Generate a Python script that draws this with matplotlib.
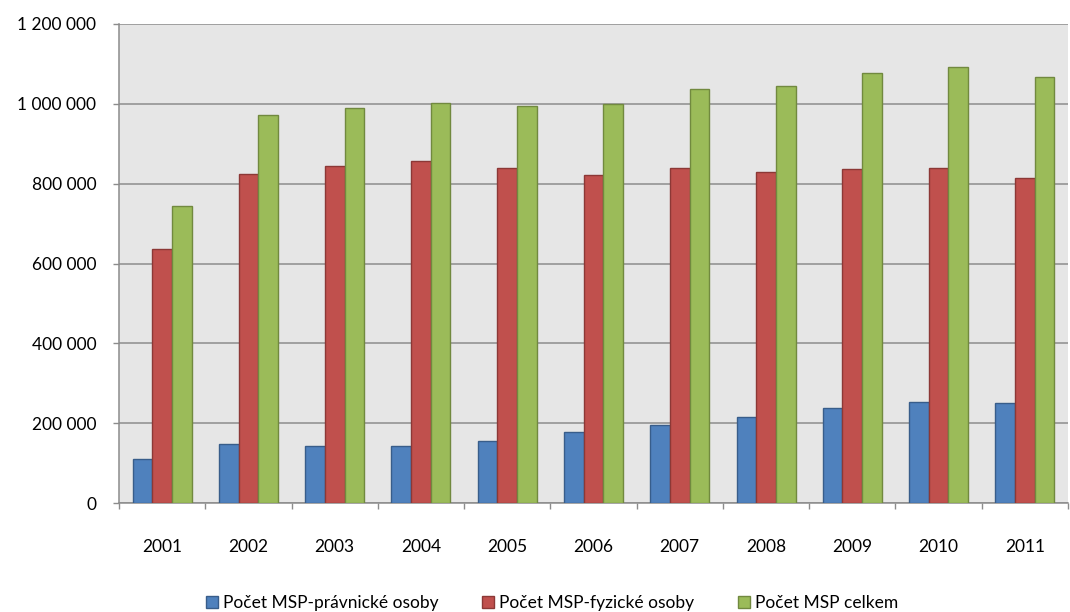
import numpy as np
import matplotlib
matplotlib.use("Agg")
import matplotlib.pyplot as plt
from matplotlib.ticker import FuncFormatter, FixedLocator

# data
years = ["2001", "2002", "2003", "2004", "2005", "2006", "2007", "2008", "2009", "2010", "2011"]
pravnicke = [111000, 147000, 144000, 144000, 156000, 179000, 195000, 216000, 238000, 252000, 250000]
fyzicke = [636000, 825000, 845000, 858000, 839000, 821000, 839000, 828000, 837000, 840000, 815000]
celkem = [745000, 971000, 989000, 1001000, 995000, 1000000, 1036000, 1044000, 1077000, 1093000, 1068000]
series_names = ["Počet MSP-právnické osoby", "Počet MSP-fyzické osoby", "Počet MSP celkem"]

plt.rcParams['font.family'] = ['Lato', 'DejaVu Sans']

fig = plt.figure(figsize=(10.7, 6.12), dpi=100)
ax = fig.add_axes([119 / 1070, 1 - 503 / 612, (1068 - 119) / 1070, (503 - 24) / 612])

x = np.arange(len(years))
w = 0.228
styles = [("#4F81BD", "#385D8A"), ("#C0504D", "#8C3836"), ("#9BBB59", "#71893F")]
for k, (vals, name) in enumerate(zip([pravnicke, fyzicke, celkem], series_names)):
    face, edge = styles[k]
    ax.bar(x + (k - 1) * w, vals, width=w, color=face, edgecolor=edge, linewidth=1.0,
           label=name, zorder=3)

ax.set_facecolor("#E6E6E6")
ax.set_xlim(-0.5, len(years) - 0.5)
ax.set_ylim(0, 1200000)
ax.set_yticks(np.arange(0, 1200001, 200000))
ax.yaxis.set_major_formatter(FuncFormatter(lambda v, p: f"{int(v):,}".replace(",", " ")))
ax.grid(axis="y", color="#8C8C8C", linewidth=1.1, zorder=1)

# category labels centred, ticks at category boundaries
ax.set_xticks(x)
ax.set_xticklabels(years)
ax.tick_params(axis="x", which="major", length=0, pad=26, labelsize=12.5, colors="black")
ax.xaxis.set_minor_locator(FixedLocator(np.arange(-0.5, len(years), 1.0)))
ax.tick_params(axis="x", which="minor", length=4.3, width=1.0, color="#8C8C8C", direction="out")
ax.tick_params(axis="y", length=4.3, width=1.0, color="#8C8C8C", labelsize=12.5, pad=12)

for s in ["top", "right"]:
    ax.spines[s].set_visible(False)
for s in ["left", "bottom"]:
    ax.spines[s].set_color("#8C8C8C")
    ax.spines[s].set_linewidth(1.1)

fig.legend(loc="center", bbox_to_anchor=(0.516, 1 - 603 / 612), ncol=3, frameon=False,
           fontsize=12.5, handlelength=0.7, handleheight=0.7, handletextpad=0.3,
           columnspacing=2.5)

fig.savefig("out.png", dpi=100)
